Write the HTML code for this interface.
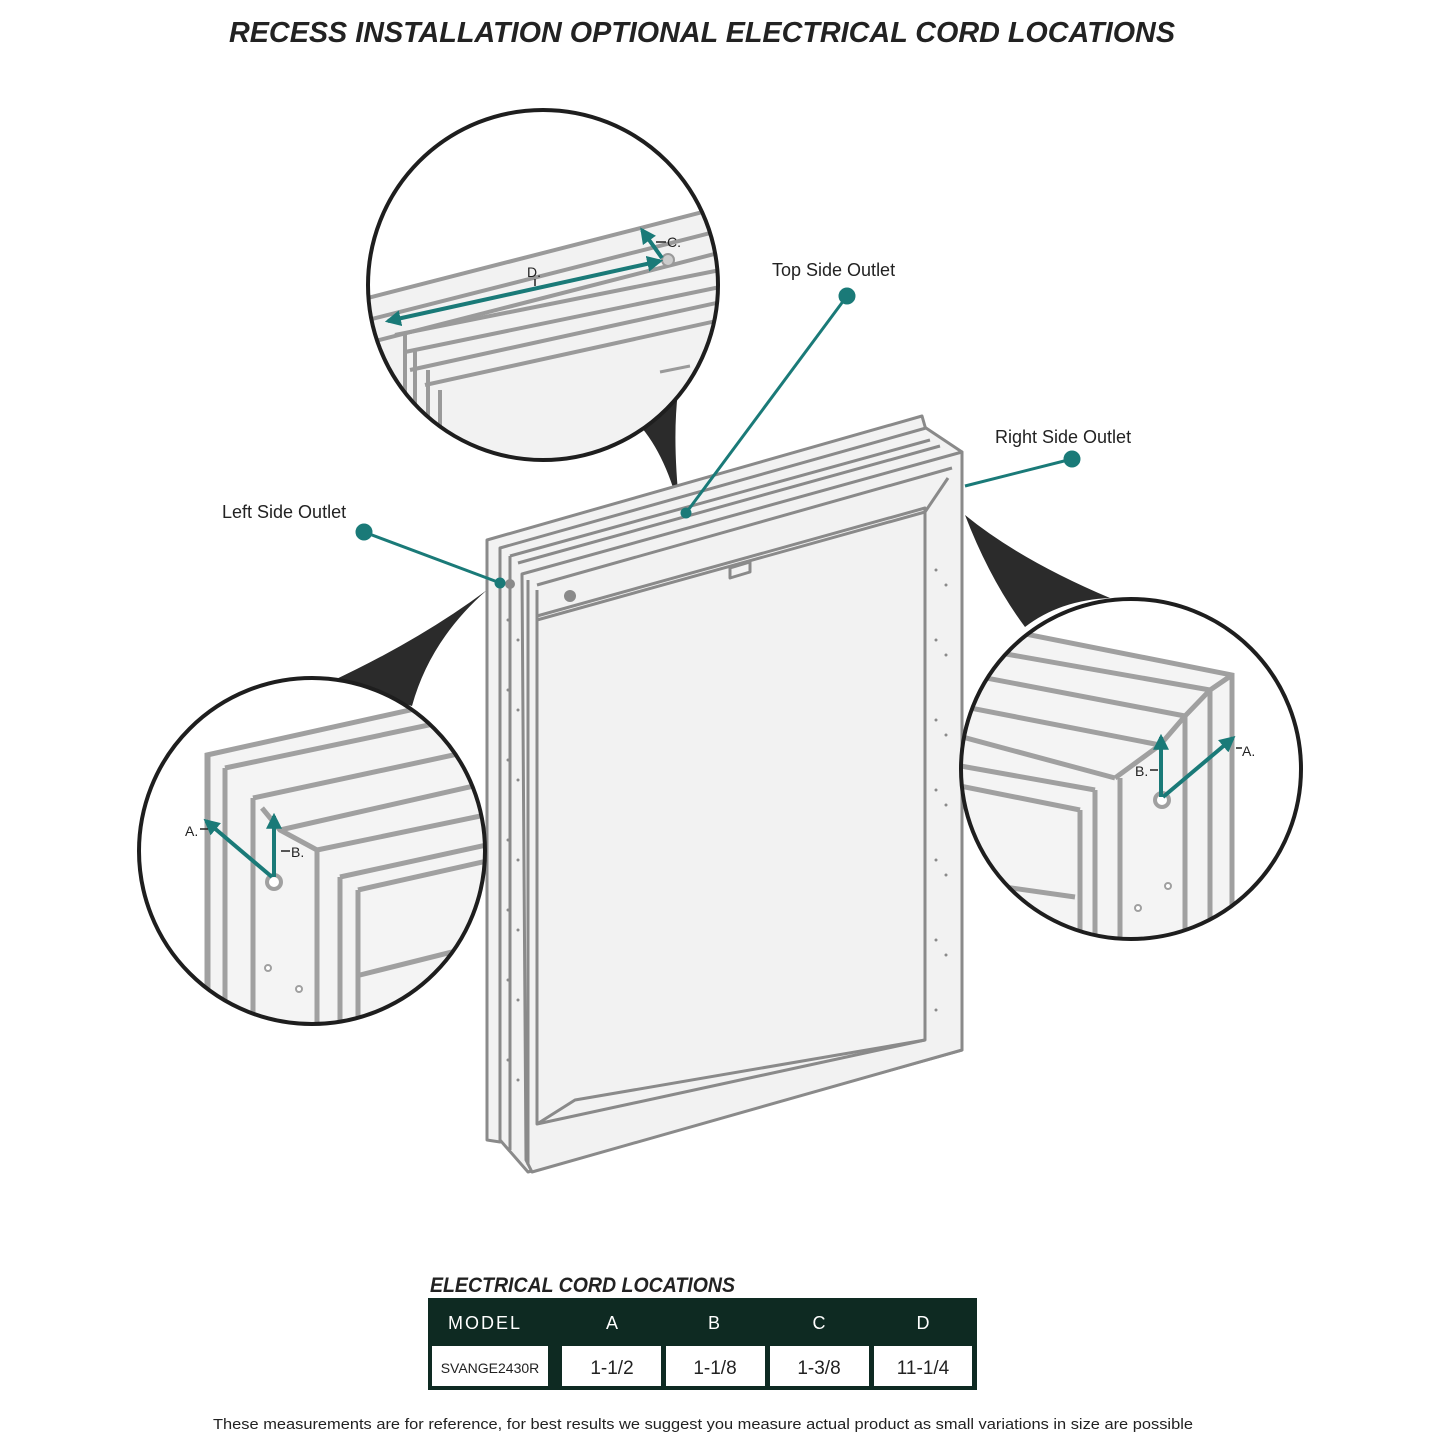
<!DOCTYPE html>
<html><head><meta charset="utf-8"><style>
html,body{margin:0;padding:0;background:#fff}
svg{display:block}
</style></head><body>
<svg width="1445" height="1445" viewBox="0 0 1445 1445" xmlns="http://www.w3.org/2000/svg">
<defs>
<clipPath id="ct"><circle cx="543" cy="285" r="175"/></clipPath>
<clipPath id="cl"><circle cx="312" cy="851" r="173"/></clipPath>
<clipPath id="cr"><circle cx="1131" cy="769" r="170"/></clipPath>
<marker id="ah" viewBox="0 0 10 10" refX="8" refY="5" markerWidth="4" markerHeight="4" orient="auto-start-reverse"><path d="M0,0L10,5L0,10z" fill="#1a7a78"/></marker>
</defs>
<text x="702" y="42" text-anchor="middle" font-family="Liberation Sans, sans-serif" font-weight="bold" font-style="italic" font-size="29" fill="#222" textLength="946" lengthAdjust="spacingAndGlyphs">RECESS INSTALLATION OPTIONAL ELECTRICAL CORD LOCATIONS</text>

<!-- callout wedges -->
<path d="M612,402 Q660,430 680,512 Q672,440 678,392 Z" fill="#2b2b2b"/>
<path d="M330,682 Q420,640 487,590 Q430,640 412,706 Z" fill="#2b2b2b"/>
<path d="M965,515 Q990,580 1025,627 Q1060,600 1110,598 Q1020,560 965,515 Z" fill="#2b2b2b"/>

<!-- main cabinet -->
<g stroke="#8a8a8a" stroke-width="3" fill="#f2f2f2" stroke-linejoin="round">
<path d="M487,540 L922,416 L926,430 L926,1050 L500,1142 L487,1140 Z"/>
<path d="M500,548 L926,428 L962,452 L962,1050 L528,1172 L500,1140 Z"/>
<path d="M510,556 L930,440"/><path d="M518,563 L940,446"/>
<path d="M522,574 L962,452 L962,1050 L532,1172 L526,1160 Z"/>
<path d="M537,616 L925,508 L925,1040 L537,1124 Z"/>
<path d="M537,620 L925,512"/>
<path d="M537,1124 L575,1100 L925,1040" fill="none"/>
<path d="M537,585 L952,468" fill="none"/>
<path d="M537,620 L537,590" fill="none"/>
<path d="M925,512 L948,478" fill="none"/>
<path d="M730,568 L750,562 L750,572 L730,578 Z"/>
<path d="M500,548 L500,1140" fill="none"/>
<path d="M510,556 L510,1150" fill="none"/>
<path d="M528,580 L528,1165" fill="none"/>
</g>
<circle cx="570" cy="596" r="6" fill="#8a8a8a"/>
<circle cx="510" cy="584" r="5" fill="#8a8a8a"/>
<g fill="#8a8a8a">
<circle cx="508" cy="620" r="1.5"/><circle cx="518" cy="640" r="1.5"/><circle cx="508" cy="690" r="1.5"/><circle cx="518" cy="710" r="1.5"/><circle cx="508" cy="760" r="1.5"/><circle cx="518" cy="780" r="1.5"/><circle cx="508" cy="840" r="1.5"/><circle cx="518" cy="860" r="1.5"/><circle cx="508" cy="910" r="1.5"/><circle cx="518" cy="930" r="1.5"/><circle cx="508" cy="980" r="1.5"/><circle cx="518" cy="1000" r="1.5"/><circle cx="508" cy="1060" r="1.5"/><circle cx="518" cy="1080" r="1.5"/>
<circle cx="936" cy="570" r="1.5"/><circle cx="946" cy="585" r="1.5"/><circle cx="936" cy="640" r="1.5"/><circle cx="946" cy="655" r="1.5"/><circle cx="936" cy="720" r="1.5"/><circle cx="946" cy="735" r="1.5"/><circle cx="936" cy="790" r="1.5"/><circle cx="946" cy="805" r="1.5"/><circle cx="936" cy="860" r="1.5"/><circle cx="946" cy="875" r="1.5"/><circle cx="936" cy="940" r="1.5"/><circle cx="946" cy="955" r="1.5"/><circle cx="936" cy="1010" r="1.5"/>
</g>

<!-- leader lines -->
<g stroke="#1a7a78" stroke-width="3" fill="#1a7a78">
<line x1="847" y1="296" x2="686" y2="513"/><circle cx="847" cy="296" r="7"/><circle cx="686" cy="513" r="4"/>
<line x1="1072" y1="459" x2="965" y2="486"/><circle cx="1072" cy="459" r="7"/>
<line x1="364" y1="532" x2="503" y2="584"/><circle cx="364" cy="532" r="7"/><circle cx="500" cy="583" r="4"/>
</g>
<g font-family="Liberation Sans, sans-serif" font-size="18" fill="#222">
<text x="772" y="276">Top Side Outlet</text>
<text x="995" y="443">Right Side Outlet</text>
<text x="222" y="518">Left Side Outlet</text>
</g>

<!-- top circle -->
<circle cx="543" cy="285" r="175" fill="#fff"/>
<g clip-path="url(#ct)" stroke="#9a9a9a" stroke-width="4" fill="#f2f2f2">
<path d="M360,300 L730,205 L730,470 L360,470 Z"/>
<path d="M360,322 L730,228" fill="none"/>
<path d="M360,345 L730,250" fill="none"/>
<path d="M395,335 L730,268" fill="none"/>
<path d="M405,352 L730,285" fill="none"/>
<path d="M410,370 L730,300" fill="none"/>
<path d="M425,385 L730,318" fill="none"/>
<path d="M405,335 L405,470" fill="none"/>
<path d="M415,350 L415,470" fill="none"/>
<path d="M428,370 L428,470" fill="none"/>
<path d="M440,390 L440,470" fill="none"/>
<path d="M660,372 L690,366" fill="none" stroke-width="3"/>
<circle cx="668" cy="260" r="6" fill="#ccc" stroke="#999" stroke-width="2"/>
</g>
<g stroke="#1a7a78" stroke-width="4" fill="none">
<line x1="388" y1="321" x2="660" y2="261" marker-start="url(#ah)" marker-end="url(#ah)"/>
<line x1="662" y1="258" x2="642" y2="230" marker-end="url(#ah)"/>
</g>
<g stroke="#222" stroke-width="1.5"><line x1="535" y1="279" x2="535" y2="286"/><line x1="656" y1="242" x2="666" y2="242"/></g>
<text x="527" y="277" font-family="Liberation Sans, sans-serif" font-size="14" fill="#222">D.</text>
<text x="667" y="247" font-family="Liberation Sans, sans-serif" font-size="14" fill="#222">C.</text>
<circle cx="543" cy="285" r="175" fill="none" stroke="#1e1e1e" stroke-width="4"/>

<!-- left circle -->
<circle cx="312" cy="851" r="173" fill="#fff"/>
<g clip-path="url(#cl)" stroke="#a0a0a0" stroke-width="5" fill="#f4f4f4">
<path d="M207,755 L500,690 L500,1030 L207,1030 Z"/>
<path d="M225,768 L500,710" fill="none"/>
<path d="M253,798 L500,745" fill="none"/>
<path d="M280,830 L500,780" fill="none"/>
<path d="M317,850 L500,812" fill="none"/>
<path d="M340,877 L500,842" fill="none"/>
<path d="M358,890 L500,858" fill="none"/>
<path d="M360,975 L500,940" fill="none"/>
<path d="M208,755 L208,1030" fill="none"/><path d="M225,768 L225,1030" fill="none"/>
<path d="M253,798 L253,1030" fill="none"/><path d="M262,808 L280,830 L317,850" fill="none"/>
<path d="M317,850 L317,1030" fill="none"/><path d="M340,877 L340,1030" fill="none"/><path d="M358,890 L358,1030" fill="none"/>
<circle cx="274" cy="882" r="7" fill="#fff" stroke-width="4"/>
<circle cx="268" cy="968" r="3" fill="#fff" stroke-width="2"/><circle cx="299" cy="989" r="3" fill="#fff" stroke-width="2"/>
</g>
<g stroke="#1a7a78" stroke-width="4" fill="none">
<line x1="272" y1="877" x2="206" y2="821" marker-end="url(#ah)"/>
<line x1="274" y1="877" x2="274" y2="816" marker-end="url(#ah)"/>
</g>
<g stroke="#222" stroke-width="1.5"><line x1="200" y1="829" x2="208" y2="829"/><line x1="281" y1="851" x2="290" y2="851"/></g>
<g font-family="Liberation Sans, sans-serif" font-size="14" fill="#222"><text x="185" y="836">A.</text><text x="291" y="857">B.</text></g>
<circle cx="312" cy="851" r="173" fill="none" stroke="#1e1e1e" stroke-width="4"/>

<!-- right circle -->
<circle cx="1131" cy="769" r="170" fill="#fff"/>
<g clip-path="url(#cr)" stroke="#a0a0a0" stroke-width="5" fill="#f4f4f4">
<path d="M955,620 L1232,675 L1232,950 L955,950 Z"/>
<path d="M955,645 L1210,690" fill="none"/>
<path d="M955,672 L1185,716" fill="none"/>
<path d="M955,705 L1160,745" fill="none"/>
<path d="M955,735 L1115,778" fill="none"/>
<path d="M955,765 L1095,790" fill="none"/>
<path d="M955,785 L1080,810" fill="none"/>
<path d="M955,880 L1075,897" fill="none"/>
<path d="M1080,810 L1080,950" fill="none"/><path d="M1095,790 L1095,950" fill="none"/>
<path d="M1115,778 L1160,745 L1185,716 L1210,690 L1232,675" fill="none"/>
<path d="M1120,778 L1120,950" fill="none"/><path d="M1185,716 L1185,950" fill="none"/><path d="M1210,690 L1210,950" fill="none"/><path d="M1232,675 L1232,950" fill="none"/>
<circle cx="1162" cy="800" r="7" fill="#fff" stroke-width="4"/>
<circle cx="1168" cy="886" r="3" fill="#fff" stroke-width="2"/><circle cx="1138" cy="908" r="3" fill="#fff" stroke-width="2"/>
</g>
<g stroke="#1a7a78" stroke-width="4" fill="none">
<line x1="1163" y1="797" x2="1233" y2="738" marker-end="url(#ah)"/>
<line x1="1161" y1="797" x2="1161" y2="737" marker-end="url(#ah)"/>
</g>
<g stroke="#222" stroke-width="1.5"><line x1="1236" y1="748" x2="1242" y2="748"/><line x1="1150" y1="770" x2="1158" y2="770"/></g>
<g font-family="Liberation Sans, sans-serif" font-size="14" fill="#222"><text x="1242" y="756">A.</text><text x="1135" y="776">B.</text></g>
<circle cx="1131" cy="769" r="170" fill="none" stroke="#1e1e1e" stroke-width="4"/>

<!-- table -->
<text x="430" y="1292" font-family="Liberation Sans, sans-serif" font-weight="bold" font-style="italic" font-size="21" fill="#222" textLength="305" lengthAdjust="spacingAndGlyphs">ELECTRICAL CORD LOCATIONS</text>
<rect x="428" y="1298" width="549" height="92" fill="#0e2a22"/>
<g fill="#fff">
<rect x="432" y="1346" width="116" height="40"/>
<rect x="562" y="1346" width="99" height="40"/>
<rect x="666" y="1346" width="99" height="40"/>
<rect x="770" y="1346" width="99" height="40"/>
<rect x="874" y="1346" width="98" height="40"/>
</g>
<g font-family="Liberation Sans, sans-serif" font-size="18" fill="#fff" text-anchor="middle">
<text x="485" y="1329" letter-spacing="2">MODEL</text>
<text x="612" y="1329">A</text><text x="714" y="1329">B</text><text x="819" y="1329">C</text><text x="923" y="1329">D</text>
</g>
<g font-family="Liberation Sans, sans-serif" fill="#222" text-anchor="middle">
<text x="490" y="1373" font-size="14">SVANGE2430R</text>
<text x="612" y="1374" font-size="19">1-1/2</text><text x="715" y="1374" font-size="19">1-1/8</text>
<text x="819" y="1374" font-size="19">1-3/8</text><text x="923" y="1374" font-size="19">11-1/4</text>
</g>
<text x="703" y="1429" text-anchor="middle" font-family="Liberation Sans, sans-serif" font-size="15" fill="#222" textLength="980" lengthAdjust="spacingAndGlyphs">These measurements are for reference, for best results we suggest you measure actual product as small variations in size are possible</text>
</svg>
</body></html>
